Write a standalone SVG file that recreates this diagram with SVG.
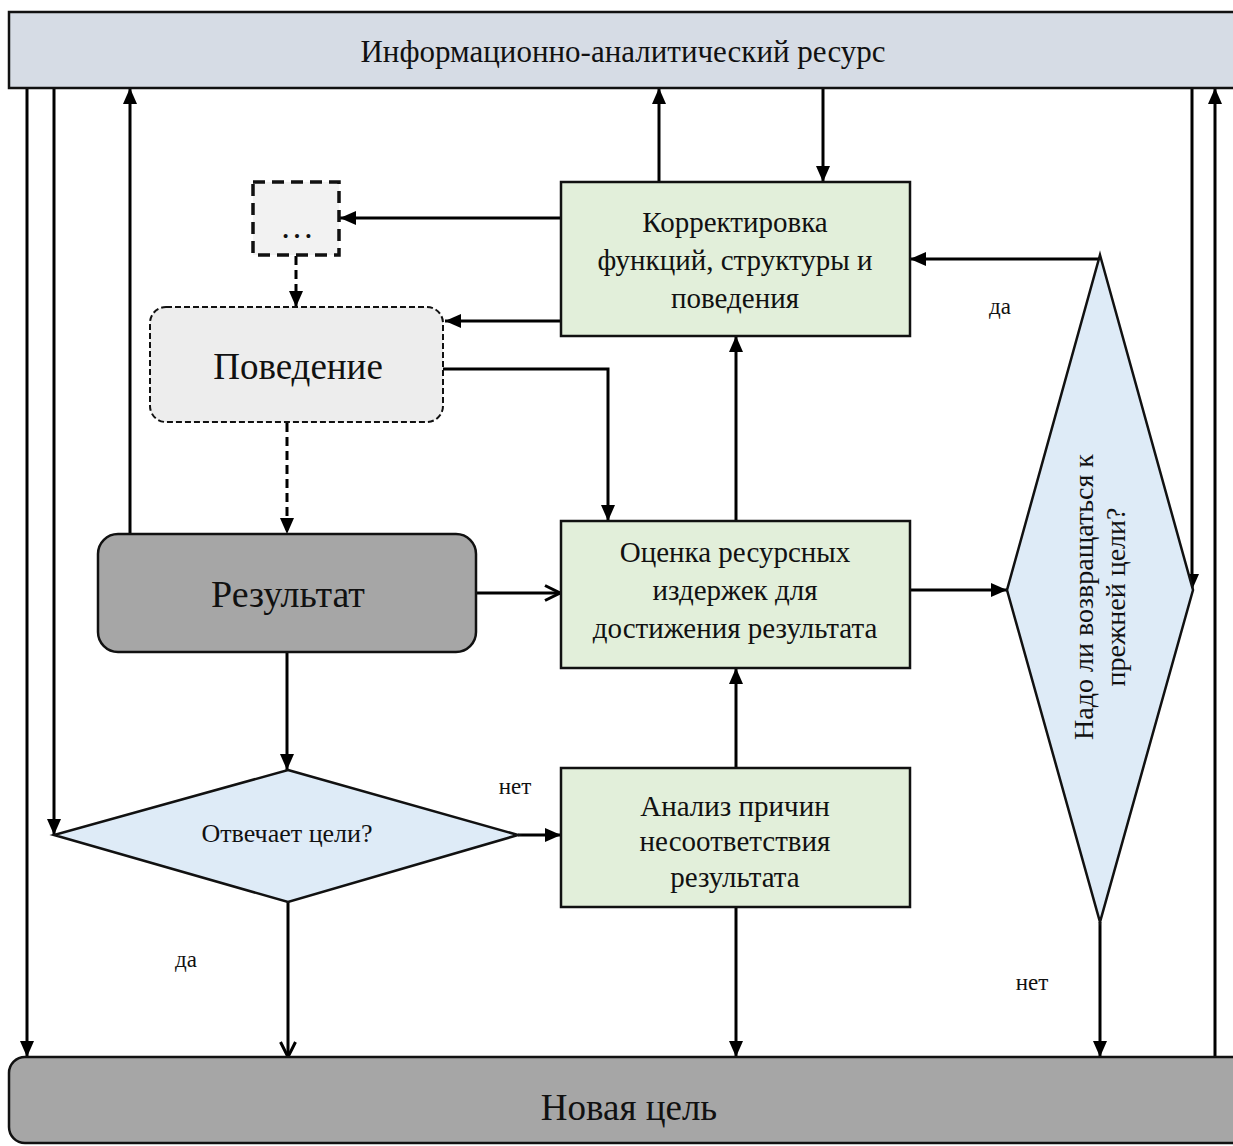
<svg xmlns="http://www.w3.org/2000/svg" width="1233" height="1146" viewBox="0 0 1233 1146">
<style>
text{font-family:"Liberation Serif","Times New Roman",serif;fill:#111;}
.c{text-anchor:middle;}
.box{stroke:#111;stroke-width:2.5;}
.green{fill:#e2efda;}
.con{fill:none;stroke:#000;stroke-width:3;}
.dash{stroke-dasharray:9,5;}
.g{font-size:29px;}
.lbl{font-size:23px;}
</style>
<defs>
<marker id="af" viewBox="0 0 16 14" refX="16" refY="7" markerWidth="16" markerHeight="14" markerUnits="userSpaceOnUse" orient="auto">
<path d="M0,0 L16,7 L0,14 z" fill="#000"/>
</marker>
<marker id="ao" viewBox="0 0 18 18" refX="16.5" refY="9" markerWidth="18" markerHeight="18" markerUnits="userSpaceOnUse" orient="auto">
<path d="M1.5,1.5 L16.5,9 L1.5,16.5" fill="none" stroke="#000" stroke-width="3"/>
</marker>
</defs>
<rect width="1233" height="1146" fill="#fff"/>

<g id="connectors">
<path class="con" d="M27,88 V1057" marker-end="url(#af)"/>
<path class="con" d="M54,88 V835" marker-end="url(#af)"/>
<path class="con" d="M130,534 V88" marker-end="url(#af)"/>
<path class="con" d="M659,182 V88" marker-end="url(#af)"/>
<path class="con" d="M823,88 V182" marker-end="url(#af)"/>
<path class="con" d="M1192,88 V590" marker-end="url(#af)"/>
<path class="con" d="M1215,1057 V88" marker-end="url(#af)"/>
<path class="con" d="M561,218 H340" marker-end="url(#af)"/>
<path class="con" d="M561,321 H445" marker-end="url(#af)"/>
<path class="con dash" d="M296,256 V307" marker-end="url(#af)"/>
<path class="con" d="M443,369 H608 V521" marker-end="url(#af)"/>
<path class="con dash" d="M287,423 V534" marker-end="url(#af)"/>
<path class="con" d="M476,593 H560" marker-end="url(#ao)"/>
<path class="con" d="M287,652 V770" marker-end="url(#af)"/>
<path class="con" d="M518,835 H561" marker-end="url(#af)"/>
<path class="con" d="M288,902 V1057" marker-end="url(#ao)"/>
<path class="con" d="M736,768 V668" marker-end="url(#af)"/>
<path class="con" d="M736,521 V336" marker-end="url(#af)"/>
<path class="con" d="M910,590 H1007" marker-end="url(#af)"/>
<path class="con" d="M1100,259 H910" marker-end="url(#af)"/>
<path class="con" d="M1100,922 V1057" marker-end="url(#af)"/>
<path class="con" d="M736,907 V1057" marker-end="url(#af)"/>
</g>

<g id="labels">
<text x="515" y="794" class="c lbl">нет</text>
<text x="186" y="967" class="c lbl">да</text>
<text x="1000" y="314" class="c lbl">да</text>
<text x="1032" y="990" class="c lbl">нет</text>
</g>

<g id="resource">
<rect class="box" x="9" y="12" width="1240" height="76" fill="#d6dce5"/>
<text x="623" y="62" class="c" font-size="31">Информационно-аналитический ресурс</text>
</g>

<g id="dots">
<rect x="253" y="182" width="86" height="73" fill="#f2f2f2" stroke="#111" stroke-width="3.5" stroke-dasharray="12,7"/>
<text x="297" y="238" class="c" font-size="34">…</text>
</g>

<g id="behavior">
<rect x="150" y="307" width="293" height="115" rx="16" fill="#ededed" stroke="#111" stroke-width="2" stroke-dasharray="6,3"/>
<text x="298" y="379" class="c" font-size="37">Поведение</text>
</g>

<g id="result">
<rect class="box" x="98" y="534" width="378" height="118" rx="20" fill="#a6a6a6"/>
<text x="288" y="607" class="c" font-size="38">Результат</text>
</g>

<g id="correction">
<rect class="box green" x="561" y="182" width="349" height="154"/>
<text x="735" y="232" class="c g">Корректировка</text>
<text x="735" y="270" class="c g">функций, структуры и</text>
<text x="735" y="308" class="c g">поведения</text>
</g>

<g id="estimate">
<rect class="box green" x="561" y="521" width="349" height="147"/>
<text x="735" y="562" class="c g">Оценка ресурсных</text>
<text x="735" y="600" class="c g">издержек для</text>
<text x="735" y="638" class="c g">достижения результата</text>
</g>

<g id="analysis">
<rect class="box green" x="561" y="768" width="349" height="139"/>
<text x="735" y="816" class="c g">Анализ причин</text>
<text x="735" y="851" class="c g">несоответствия</text>
<text x="735" y="887" class="c g">результата</text>
</g>

<g id="goal-check">
<polygon class="box" points="288,770 518,835 288,902 54,835" fill="#deebf7"/>
<text x="287" y="842" class="c" font-size="26">Отвечает цели?</text>
</g>

<g id="return-check">
<polygon class="box" points="1100,255 1193,590 1100,922 1007,590" fill="#deebf7"/>
<g transform="translate(1100,597) rotate(-90)">
<text x="0" y="-7" class="c" font-size="28">Надо ли возвращаться к</text>
<text x="0" y="25" class="c" font-size="28">прежней цели?</text>
</g>
</g>

<g id="new-goal">
<rect class="box" x="9" y="1057" width="1240" height="86" rx="16" fill="#a6a6a6"/>
<text x="629" y="1120" class="c" font-size="37">Новая цель</text>
</g>
</svg>
